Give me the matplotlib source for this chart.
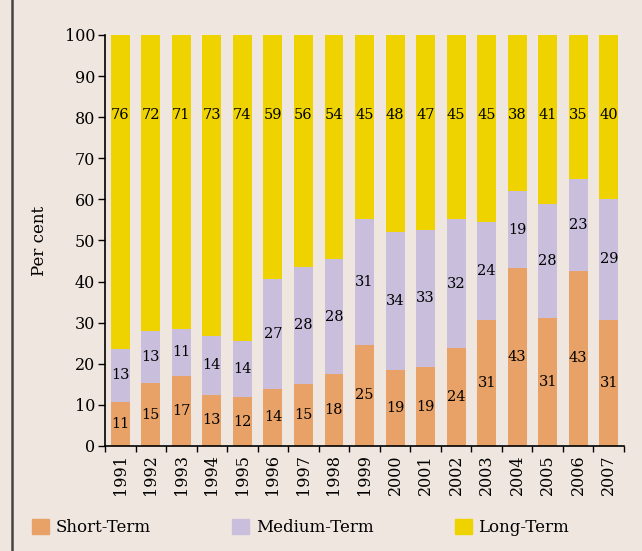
import numpy as np
import matplotlib
matplotlib.use("Agg")
import matplotlib.pyplot as plt
from matplotlib.patches import Patch
from matplotlib.lines import Line2D

years = ['1991', '1992', '1993', '1994', '1995', '1996', '1997', '1998', '1999',
         '2000', '2001', '2002', '2003', '2004', '2005', '2006', '2007']

# segment heights
short = [10.7, 15.3, 17.0, 12.4, 11.9, 13.9, 15.1, 17.5, 24.6, 18.5, 19.2, 23.8, 30.7, 43.3, 31.1, 42.6, 30.7]
medium = [12.9, 12.7, 11.5, 14.4, 13.6, 26.7, 28.5, 28.0, 30.6, 33.6, 33.4, 31.4, 23.8, 18.7, 27.8, 22.4, 29.4]
long_ = [76.4, 72.0, 71.5, 73.2, 74.5, 59.4, 56.4, 54.5, 44.8, 47.9, 47.4, 44.8, 45.5, 38.0, 41.1, 35.0, 39.9]

# printed labels
short_lbl = [11, 15, 17, 13, 12, 14, 15, 18, 25, 19, 19, 24, 31, 43, 31, 43, 31]
medium_lbl = [13, 13, 11, 14, 14, 27, 28, 28, 31, 34, 33, 32, 24, 19, 28, 23, 29]
long_lbl = [76, 72, 71, 73, 74, 59, 56, 54, 45, 48, 47, 45, 45, 38, 41, 35, 40]

bg = '#efe6df'
c_short = '#e8a166'
c_med = '#c9bfdc'
c_long = '#eed300'

plt.rcParams['font.family'] = 'DejaVu Serif'

fig = plt.figure(figsize=(6.42, 5.51), dpi=100, facecolor=bg)
ax = fig.add_axes([0.1636, 0.1906, 0.8084, 0.7459])
ax.set_facecolor(bg)

x = np.arange(len(years))
s = np.array(short)
m = np.array(medium)
l = np.array(long_)
w = 0.62
ax.bar(x, s, w, color=c_short, linewidth=0)
ax.bar(x, m, w, bottom=s, color=c_med, linewidth=0)
ax.bar(x, l, w, bottom=s + m, color=c_long, linewidth=0)

for i in range(len(years)):
    ax.text(x[i], s[i] / 2, str(short_lbl[i]), ha='center', va='center', fontsize=10.5)
    ax.text(x[i], s[i] + m[i] / 2, str(medium_lbl[i]), ha='center', va='center', fontsize=10.5)
    ax.text(x[i], 80.5, str(long_lbl[i]), ha='center', va='center', fontsize=10.5)

ax.set_xlim(-0.47, len(years) - 0.5)
ax.set_ylim(0, 100)
ax.set_yticks(range(0, 101, 10))
ax.tick_params(axis='y', labelsize=11.5, length=5, width=1, direction='out', pad=2)
ax.set_xticks(x)
ax.set_xticklabels(years, rotation=90, fontsize=11.5)
ax.tick_params(axis='x', which='major', length=0, pad=6)
ax.set_xticks(np.arange(-0.5, len(years)), minor=True)
ax.tick_params(axis='x', which='minor', length=4, width=1, direction='out')
for sp in ['top', 'right']:
    ax.spines[sp].set_visible(False)
ax.spines['left'].set_linewidth(1.2)
ax.spines['bottom'].set_linewidth(1.2)
ax.set_ylabel('Per cent', fontsize=12, labelpad=12)

handles = [Patch(color=c_short, label='Short-Term'),
           Patch(color=c_med, label='Medium-Term'),
           Patch(color=c_long, label='Long-Term')]
fig.legend(handles=handles, loc='center left', bbox_to_anchor=(0.027, 0.042), ncol=3,
           frameon=False, fontsize=12, handlelength=1.0, handleheight=1.0,
           handletextpad=0.4, columnspacing=4.9)

fig.add_artist(Line2D([0.018, 0.018], [0, 1], color='#444444', linewidth=1.8))

fig.savefig('out.png', dpi=100, facecolor=bg)
